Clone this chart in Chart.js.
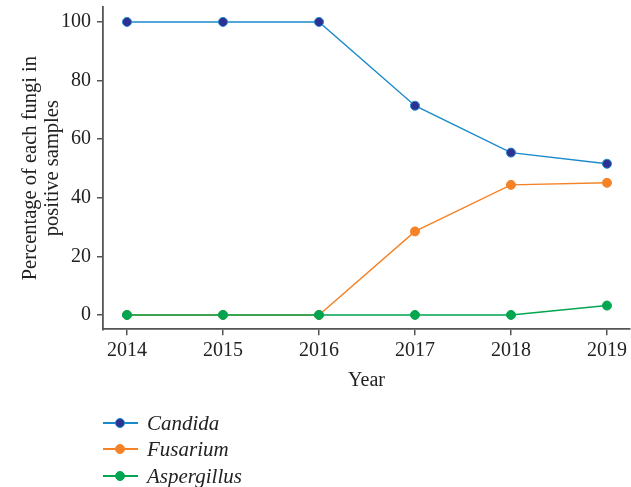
<!DOCTYPE html>
<html>
<head>
<meta charset="utf-8">
<script src="https://cdn.jsdelivr.net/npm/chart.js@4.4.1/dist/chart.umd.min.js"></script>
<style>
  html, body { margin: 0; padding: 0; background: #fff; }
  #wrap { position: relative; width: 631px; height: 487px; }
  canvas { position: absolute; left: 0; top: 0; }
  .leg { position: absolute; left: 103px; height: 24px; display: flex; align-items: center;
         font-family: 'Liberation Serif', serif; font-style: italic; font-size: 21px; color: #222; }
  .sym { position: relative; width: 35px; height: 24px; margin-right: 9px; }
  .sym .ln { position: absolute; left: 0; right: 0; top: 11px; height: 1.5px; }
  .sym .pt { position: absolute; left: 12px; top: 7px; width: 10px; height: 10px; border-radius: 50%; box-sizing: border-box; }
</style>
</head>
<body>
<div id="wrap">
  <canvas id="c" width="631" height="487"></canvas>
  <div id="legend"></div>
</div>
<script>
const years = [2014, 2015, 2016, 2017, 2018, 2019];
const candida = [100, 100, 100, 71.4, 55.4, 51.6];
const fusarium = [0, 0, 0, 28.5, 44.4, 45.1];
const aspergillus = [0, 0, 0, 0, 0, 3.2];
const yTicks = [0, 20, 40, 60, 80, 100];
const seriesNames = ['Candida', 'Fusarium', 'Aspergillus'];
const lineColors = ['#1b8acb', '#f58226', '#00a650'];
const pointFills = ['#2e3192', '#f58226', '#00a650'];

const series = [candida, fusarium, aspergillus];
const toXY = arr => years.map((yr, i) => ({ x: yr, y: arr[i] }));

Chart.defaults.font.family = "'Liberation Serif', serif";
Chart.defaults.color = '#222';

const datasets = series.map((arr, i) => ({
  label: seriesNames[i],
  data: toXY(arr),
  borderColor: lineColors[i],
  backgroundColor: pointFills[i],
  pointBackgroundColor: pointFills[i],
  pointBorderColor: lineColors[i],
  pointBorderWidth: 1,
  pointRadius: 4.5,
  borderWidth: 1.4,
  order: 2 - i,
  tension: 0,
  clip: false
}));

new Chart(document.getElementById('c'), {
  type: 'line',
  data: { datasets },
  options: {
    responsive: false,
    animation: false,
    layout: { autoPadding: false, padding: { left: 0, right: 1, top: 7, bottom: 94 } },
    plugins: { legend: { display: false }, tooltip: { enabled: false } },
    scales: {
      x: {
        type: 'linear',
        min: 2013.75,
        max: 2019.24,
        afterBuildTicks: s => { s.ticks = years.map(v => ({ value: v })); },
        afterFit: s => { s.height = 63.7; s.paddingLeft = 0; s.paddingRight = 0; },
        ticks: { font: { size: 20 }, color: '#222', padding: 3, callback: v => String(v) },
        grid: { display: true, drawOnChartArea: false, drawTicks: true, tickLength: 6, color: '#555', lineWidth: 1.5 },
        border: { display: true, color: '#555', width: 1.8 },
        title: { display: true, text: 'Year', font: { size: 20 }, color: '#222', padding: { top: 2, bottom: 0 } }
      },
      y: {
        min: -4.9,
        max: 105.1,
        afterBuildTicks: s => { s.ticks = yTicks.map(v => ({ value: v })); },
        afterFit: s => { s.width = 103; s.paddingTop = 0; s.paddingBottom = 0; },
        ticks: { font: { size: 20 }, color: '#222', padding: 6 },
        grid: { display: true, drawOnChartArea: false, drawTicks: true, tickLength: 6, color: '#555', lineWidth: 1.5 },
        border: { display: true, color: '#555', width: 1.8 },
        title: { display: true, text: ['Percentage of each fungi in', 'positive samples'], font: { size: 20.5, lineHeight: 1.1 }, color: '#222', padding: { top: 19, bottom: 0 } }
      }
    }
  }
});

const legendTops = [411, 437, 464];
const legend = document.getElementById('legend');
seriesNames.forEach((name, i) => {
  const d = document.createElement('div');
  d.className = 'leg';
  d.style.top = legendTops[i] + 'px';
  d.innerHTML = '<span class="sym"><span class="ln" style="background:' + lineColors[i] + '"></span>' +
    '<span class="pt" style="background:' + pointFills[i] + ';border:1px solid ' + lineColors[i] + '"></span></span>' +
    '<span>' + name + '</span>';
  legend.appendChild(d);
});
</script>
</body>
</html>
